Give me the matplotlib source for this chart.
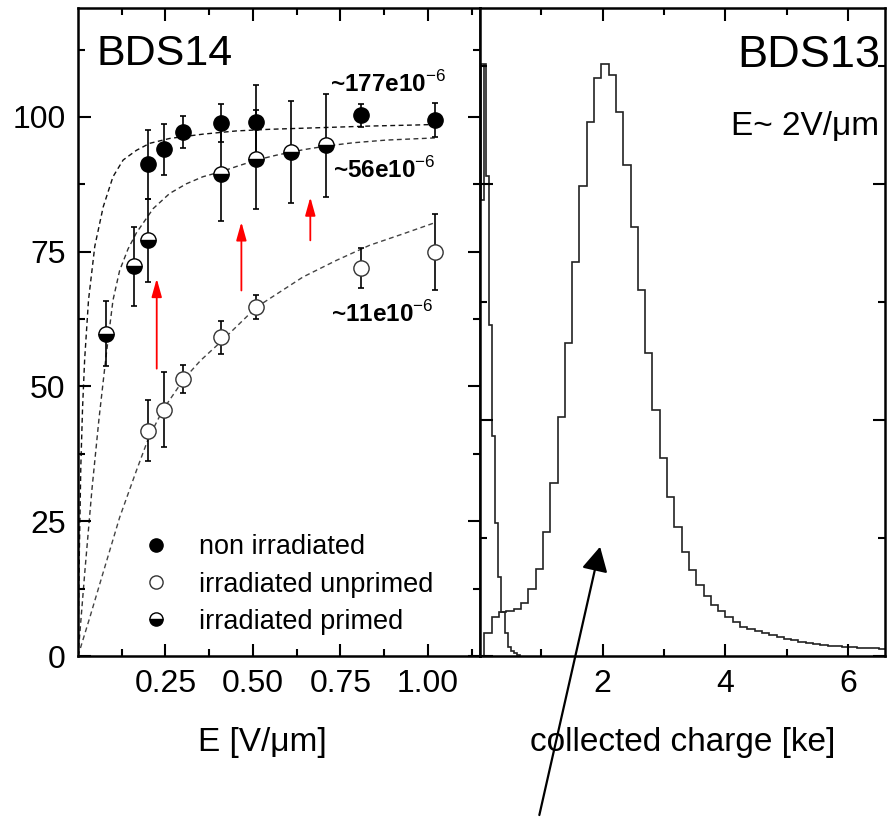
import numpy as np
import matplotlib
matplotlib.use("Agg")
import matplotlib.pyplot as plt
from matplotlib.lines import Line2D
from matplotlib.ticker import FixedLocator

plt.rcParams['font.family'] = ['Liberation Sans', 'DejaVu Sans']
plt.rcParams['mathtext.fontset'] = 'custom'
plt.rcParams['mathtext.rm'] = 'Liberation Sans'
plt.rcParams['mathtext.bf'] = 'Liberation Sans:bold'

# ---------------- left panel data (BDS14) ----------------
E_non = [0.20, 0.245, 0.30, 0.41, 0.51, 0.81, 1.02]
Q_non = [91.2, 94.0, 97.2, 98.8, 99.0, 100.3, 99.4]
err_non = [6.4, 4.7, 2.9, 3.5, 6.9, 2.1, 3.1]

E_unp = [0.20, 0.245, 0.30, 0.41, 0.51, 0.81, 1.02]
Q_unp = [41.8, 45.7, 51.4, 59.1, 64.7, 72.0, 74.9]
err_unp = [5.7, 7.0, 2.6, 3.0, 2.2, 3.7, 7.0]

E_pri = [0.08, 0.16, 0.20, 0.41, 0.51, 0.61, 0.71]
Q_pri = [59.8, 72.3, 77.1, 89.5, 92.1, 93.5, 94.7]
err_pri = [6.0, 7.3, 7.7, 8.9, 9.2, 9.4, 9.5]

fitA_E = [0, 0.004, 0.008, 0.013, 0.019, 0.03, 0.048, 0.072, 0.10, 0.129, 0.167,
          0.205, 0.262, 0.357, 0.453, 0.548, 0.643, 0.739, 0.834, 0.967, 1.02]
fitA_Q = [0, 20, 35, 46, 55, 66, 76, 83.3, 88.9, 92.0, 93.8,
          95.1, 96.0, 96.8, 97.4, 97.7, 97.9, 98.1, 98.3, 98.5, 98.6]

fitB_E = [0, 0.02, 0.04, 0.06, 0.08, 0.10, 0.119, 0.143, 0.167, 0.215, 0.262,
          0.31, 0.357, 0.407, 0.453, 0.51, 0.567, 0.643, 0.71, 0.786, 0.881, 1.02]
fitB_Q = [0, 16, 31, 44, 55.5, 66, 71.5, 75.5, 78.5, 83.0, 85.8,
          87.6, 88.9, 89.8, 90.8, 92.0, 92.9, 93.9, 94.6, 95.2, 95.7, 96.1]

fitC_E = [0, 0.034, 0.072, 0.119, 0.167, 0.202, 0.243, 0.303, 0.35, 0.407,
          0.51, 0.643, 0.739, 0.834, 0.929, 1.021]
fitC_Q = [0, 7.2, 15.5, 25.7, 34.4, 40.5, 45.7, 51.4, 54.8, 58.2,
          64.7, 70.3, 73.4, 76.2, 78.3, 80.4]

fit_labels = ['~177e10$^{-6}$', '~56e10$^{-6}$', '~11e10$^{-6}$']
legend_labels = ['non irradiated', 'irradiated unprimed', 'irradiated primed']

# red arrows (E, from, to)
red_E = [0.225, 0.467, 0.664]
red_from = [53.3, 67.8, 77.1]
red_to = [70.0, 80.5, 85.1]

# ---------------- right panel data (BDS13) ----------------
sig_lo, sig_w = 0.073, 0.119
sig_counts = [9.6, 16.4, 18.8, 19.2, 19.8, 22.6, 28.3, 37.0, 52.5, 73.2,
              101.1, 132.5, 167.1, 199.2, 226.4, 244.8, 250.8, 246.4, 230.7, 208.1,
              181.9, 155.1, 128.3, 104.1, 83.7, 67.3, 54.7, 44.2, 36.4, 30.2,
              25.5, 21.7, 18.9, 16.4, 14.2, 12.5, 11.3, 10.6, 9.6, 8.8,
              7.9, 7.2, 6.7, 6.1, 5.5, 5.1, 4.7, 4.4, 4.1, 3.9,
              3.7, 3.4, 3.3, 3.3, 3.1]
ped_lo, ped_w = 0.0, 0.05
ped_counts = [250.8, 250.8, 203.4, 140.3, 93.2, 56.2, 33.3, 18.8, 9.6, 3.9, 2.2, 1.1, 0.4]
ped_inner_edges = [0.01, 0.065]
ped_inner_counts = [193.2]

fig = plt.figure(figsize=(8.93, 8.18), dpi=100)
ax1 = fig.add_axes([78/893, 162/818, 402/893, 648/818])
ax2 = fig.add_axes([480/893, 162/818, 405/893, 648/818])

# ---- left panel ----
dash = (0, (3.5, 2.5))
ax1.plot(fitA_E, fitA_Q, color='#111111', lw=1.0, ls=dash, zorder=1)
ax1.plot(fitB_E, fitB_Q, color='#333333', lw=1.0, ls=dash, zorder=1)
ax1.plot(fitC_E, fitC_Q, color='#444444', lw=1.0, ls=dash, zorder=1)

ekw = dict(fmt='none', ecolor='black', elinewidth=1.2, capsize=2.5, capthick=1.2, zorder=2)
ax1.errorbar(E_non, Q_non, yerr=err_non, **ekw)
ax1.errorbar(E_unp, Q_unp, yerr=err_unp, **ekw)
ax1.errorbar(E_pri, Q_pri, yerr=err_pri, **ekw)

ms = 11
ax1.plot(E_non, Q_non, 'o', ms=ms, mfc='black', mec='black', mew=1.0, zorder=3)
ax1.plot(E_unp, Q_unp, 'o', ms=ms, mfc='white', mec='#333333', mew=1.0, zorder=3)
ax1.plot(E_pri, Q_pri, 'o', ms=ms, mfc='black', mfcalt='white', fillstyle='bottom',
         mec='black', mew=1.0, zorder=3)

for x, y0, y1 in zip(red_E, red_from, red_to):
    ax1.annotate('', xy=(x, y1), xytext=(x, y0),
                 arrowprops=dict(arrowstyle='-|>,head_length=1.0,head_width=0.28',
                                 color='red', lw=1.3, mutation_scale=11,
                                 shrinkA=0, shrinkB=0), zorder=2)

ax1.text(0.72, 104.6, fit_labels[0], fontsize=17.5, fontweight='bold', va='baseline')
ax1.text(0.728, 88.6, fit_labels[1], fontsize=17.5, fontweight='bold', va='baseline')
ax1.text(0.724, 61.9, fit_labels[2], fontsize=17.5, fontweight='bold', va='baseline')
ax1.text(0.054, 109.6, 'BDS14', fontsize=31, va='baseline')

handles = [
    Line2D([], [], ls='none', marker='o', ms=9.5, mfc='black', mec='black'),
    Line2D([], [], ls='none', marker='o', ms=9.5, mfc='white', mec='#333333'),
    Line2D([], [], ls='none', marker='o', ms=9.5, mfc='black', mfcalt='white',
           fillstyle='bottom', mec='black'),
]
ax1.legend(handles, legend_labels, loc='upper left', bbox_to_anchor=(0.16, 0.188),
           frameon=False, fontsize=19.5, handlelength=1.0, handletextpad=1.1,
           labelspacing=0.42, borderpad=0, borderaxespad=0)

ax1.set_xlim(0, 1.149)
ax1.set_ylim(0, 120.2)
ax1.xaxis.set_major_locator(FixedLocator([0.25, 0.5, 0.75, 1.0]))
ax1.set_xticklabels(['0.25', '0.50', '0.75', '1.00'])
ax1.xaxis.set_minor_locator(FixedLocator([0.125, 0.375, 0.625, 0.875, 1.125]))
ax1.yaxis.set_major_locator(FixedLocator([0, 25, 50, 75, 100]))
ax1.yaxis.set_minor_locator(FixedLocator([12.5, 37.5, 62.5, 87.5, 112.5]))

# ---- right panel ----
sig_edges = sig_lo + sig_w * np.arange(len(sig_counts) + 1)
ped_edges = ped_lo + ped_w * np.arange(len(ped_counts) + 1)
ax2.stairs(sig_counts, sig_edges, color='#222222', lw=1.2)
ax2.stairs(ped_counts, ped_edges, color='#222222', lw=1.2)
ax2.stairs(ped_inner_counts, ped_inner_edges, baseline=ped_counts[0], color='#222222', lw=1.2)

ax2.set_xlim(0, 6.6)
ax2.set_ylim(0, 274.6)
ax2.xaxis.set_major_locator(FixedLocator([2, 4, 6]))
ax2.xaxis.set_minor_locator(FixedLocator([1, 3, 5]))
ax2.yaxis.set_major_locator(FixedLocator([0, 100, 200]))
ax2.yaxis.set_minor_locator(FixedLocator([50, 150, 250]))
ax2.tick_params(labelleft=False)

ax2.text(6.52, 249.6, 'BDS13', fontsize=32.5, ha='right', va='baseline')
ax2.text(6.50, 220.8, 'E~ 2V/\u03bcm', fontsize=24, ha='right', va='baseline')

ax2.annotate('', xy=(1.957, 46.3), xytext=(0.967, -67.4),
             arrowprops=dict(arrowstyle='-|>,head_length=0.75,head_width=0.4',
                             color='black', lw=1.6, mutation_scale=20,
                             shrinkA=0, shrinkB=0),
             annotation_clip=False)

for ax in (ax1, ax2):
    for s in ax.spines.values():
        s.set_linewidth(1.8)
    ax.tick_params(which='both', direction='in', top=True, right=True,
                   width=1.5, labelsize=23, pad=9)
    ax.tick_params(which='major', length=9)
    ax.tick_params(which='minor', length=5)

fig.text(262/893, 1 - 743/818, 'E [V/\u03bcm]', fontsize=24, ha='center', va='center')
fig.text(682.5/893, 1 - 743/818, 'collected charge [ke]', fontsize=24, ha='center', va='center')

fig.savefig('out.png', dpi=100)
